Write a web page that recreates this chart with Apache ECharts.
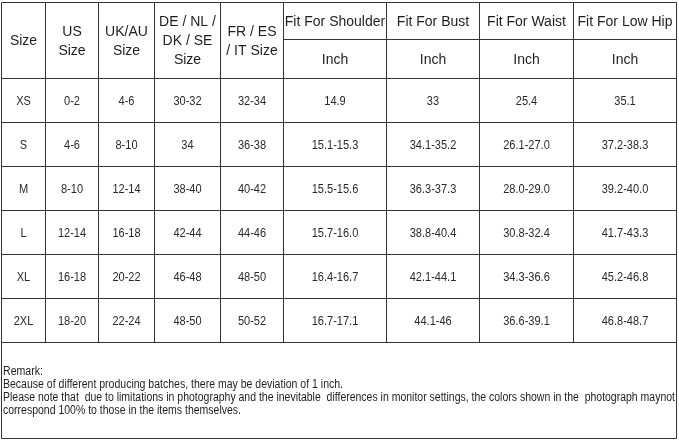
<!DOCTYPE html>
<html>
<head>
<meta charset="utf-8">
<script src="https://cdn.jsdelivr.net/npm/echarts@6/dist/echarts.min.js"></script>
<style>
html,body{margin:0;padding:0;background:#fff;}
#chart{width:679px;height:441px;}
</style>
</head>
<body>
<div id="chart"></div>
<script>
// ---- data ----
var headers = ['Size', 'US\nSize', 'UK/AU\nSize', 'DE / NL /\nDK / SE\nSize', 'FR / ES\n/ IT Size',
  'Fit For Shoulder', 'Fit For Bust', 'Fit For Waist', 'Fit For Low Hip'];
var unitLabel = 'Inch';
var sizes = ['XS', 'S', 'M', 'L', 'XL', '2XL'];
var usSize = ['0-2', '4-6', '8-10', '12-14', '16-18', '18-20'];
var ukSize = ['4-6', '8-10', '12-14', '16-18', '20-22', '22-24'];
var deSize = ['30-32', '34', '38-40', '42-44', '46-48', '48-50'];
var frSize = ['32-34', '36-38', '40-42', '44-46', '48-50', '50-52'];
var shoulder = ['14.9', '15.1-15.3', '15.5-15.6', '15.7-16.0', '16.4-16.7', '16.7-17.1'];
var bust = ['33', '34.1-35.2', '36.3-37.3', '38.8-40.4', '42.1-44.1', '44.1-46'];
var waist = ['25.4', '26.1-27.0', '28.0-29.0', '30.8-32.4', '34.3-36.6', '36.6-39.1'];
var lowHip = ['35.1', '37.2-38.3', '39.2-40.0', '41.7-43.3', '45.2-46.8', '46.8-48.7'];
var remarkLines = [
  'Remark:',
  'Because of different producing batches, there may be deviation of 1 inch.',
  'Please note that  due to limitations in photography and the inevitable  differences in monitor settings, the colors shown in the  photograph maynot',
  'correspond 100% to those in the items themselves.'
];

// ---- layout (pixel units on the hidden value axes) ----
var colEdges = [1, 45, 98, 154, 220, 283, 386, 479, 573, 676];
var topY = 2, headerSplitY = 39, headerBottomY = 78, rowH = 44;
var remarkBottomY = 438;
var remarkY = [372, 385, 398, 411];
var remarkEnd = [43, 343, 675, 241];
var FONT = "'Liberation Sans', Arial, sans-serif";
var lineColor = '#353535';

var columns = [sizes, usSize, ukSize, deSize, frSize, shoulder, bust, waist, lowHip];
var nFixed = 5;

var cells = [];
for (var c = 0; c < headers.length; c++) {
  if (c < nFixed) {
    cells.push({ b: [colEdges[c], topY, colEdges[c + 1], headerBottomY], t: headers[c], k: 'h' });
  } else {
    cells.push({ b: [colEdges[c], topY, colEdges[c + 1], headerSplitY], t: headers[c], k: 'h' });
    cells.push({ b: [colEdges[c], headerSplitY, colEdges[c + 1], headerBottomY], t: unitLabel, k: 'h' });
  }
  for (var r = 0; r < sizes.length; r++) {
    var y0 = headerBottomY + r * rowH;
    cells.push({ b: [colEdges[c], y0, colEdges[c + 1], y0 + rowH], t: columns[c][r], k: 'd' });
  }
}
cells.push({ b: [colEdges[0], headerBottomY + sizes.length * rowH, colEdges[colEdges.length - 1], remarkBottomY], t: '', k: 'box' });

var seriesData = cells.map(function (cell, i) { return [cell.b[0], cell.b[1], cell.b[2], cell.b[3], i]; });

function renderItem(params, api) {
  var p0 = api.coord([api.value(0), api.value(1)]);
  var p1 = api.coord([api.value(2), api.value(3)]);
  var cell = cells[api.value(4)];
  var x0 = Math.round(p0[0]) + 0.5, y0 = Math.round(p0[1]) + 0.5;
  var x1 = Math.round(p1[0]) + 0.5, y1 = Math.round(p1[1]) + 0.5;
  var children = [{
    type: 'rect',
    shape: { x: x0, y: y0, width: x1 - x0, height: y1 - y0 },
    style: { fill: 'none', stroke: lineColor, lineWidth: 1 }
  }];
  if (cell.t) {
    var isH = cell.k === 'h';
    children.push({
      type: 'text',
      x: (x0 + x1) / 2,
      y: (y0 + y1) / 2 + 1,
      scaleX: isH ? 1 : 0.92,
      style: {
        text: cell.t,
        align: 'center',
        verticalAlign: 'middle',
        font: (isH ? '14px ' : '12px ') + FONT,
        lineHeight: isH ? 19 : 14,
        fill: isH ? '#1e1e1e' : '#2a2a2a'
      }
    });
  }
  return { type: 'group', children: children };
}

// remark text: scale horizontally to the condensed widths of the original
var canvas = document.createElement('canvas');
var ctx = canvas.getContext('2d');
var remarkFont = '12.5px ' + FONT;
ctx.font = remarkFont;
var remarkX = 3;
var graphics = remarkLines.map(function (line, i) {
  var w = ctx.measureText(line).width;
  var s = (remarkEnd[i] - remarkX) / w;
  return {
    type: 'text',
    x: remarkX,
    y: remarkY[i],
    scaleX: s,
    silent: true,
    style: { text: line, font: remarkFont, fill: '#1e1e1e', verticalAlign: 'middle', align: 'left' }
  };
});

var chart = echarts.init(document.getElementById('chart'), null, { renderer: 'canvas' });
chart.setOption({
  backgroundColor: '#ffffff',
  animation: false,
  grid: { left: 0, right: 0, top: 0, bottom: 0 },
  xAxis: { type: 'value', min: 0, max: 679, show: false },
  yAxis: { type: 'value', min: 0, max: 441, inverse: true, show: false },
  series: [{
    type: 'custom',
    renderItem: renderItem,
    clip: false,
    silent: true,
    encode: { x: [0, 2], y: [1, 3] },
    data: seriesData
  }],
  graphic: graphics
});
</script>
</body>
</html>
